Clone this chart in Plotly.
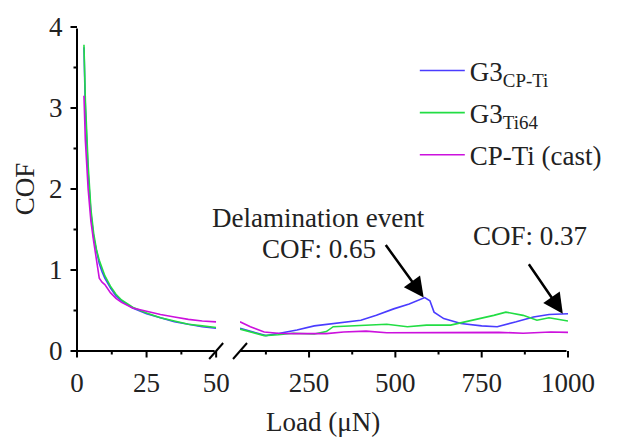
import plotly.graph_objects as go

# ---------------- data ----------------
series_names = ["G3<sub>CP-Ti</sub>", "G3<sub>Ti64</sub>", "CP-Ti (cast)"]
series_colors = ["#4a3cff", "#22dd44", "#cc11dd"]

# Low-load region (0-50 µN)
low_x = [2.5, 3, 4, 5, 6, 7, 8, 9, 10, 12, 14, 16, 18, 20, 25, 30, 35, 40, 45, 50]
blue_low = [3.75, 3.0, 2.2, 1.7, 1.4, 1.22, 1.08, 0.98, 0.9, 0.78, 0.68, 0.62, 0.57, 0.53, 0.46, 0.41, 0.36, 0.33, 0.30, 0.28]
green_low = [3.78, 3.1, 2.3, 1.75, 1.45, 1.25, 1.12, 1.02, 0.93, 0.80, 0.70, 0.63, 0.58, 0.54, 0.47, 0.41, 0.37, 0.33, 0.31, 0.29]
mag_low = [3.15, 2.6, 2.0, 1.6, 1.35, 1.1, 0.9, 0.85, 0.82, 0.72, 0.65, 0.60, 0.56, 0.53, 0.49, 0.45, 0.42, 0.39, 0.37, 0.36]

# High-load region (50-1000 µN)
blue_hx = [50, 90, 125, 165, 215, 265, 330, 400, 445, 495, 540, 570, 585, 600, 612, 640, 690, 750, 795, 850, 900, 945, 1000]
blue_hy = [0.28, 0.23, 0.19, 0.22, 0.26, 0.31, 0.34, 0.38, 0.44, 0.52, 0.58, 0.63, 0.66, 0.62, 0.48, 0.40, 0.34, 0.31, 0.30, 0.36, 0.42, 0.45, 0.46]
green_hx = [50, 90, 120, 160, 205, 265, 300, 320, 400, 475, 535, 590, 660, 725, 785, 820, 870, 910, 945, 1000]
green_hy = [0.27, 0.22, 0.19, 0.20, 0.22, 0.21, 0.24, 0.30, 0.32, 0.33, 0.30, 0.32, 0.32, 0.38, 0.44, 0.48, 0.44, 0.38, 0.41, 0.37]
mag_hx = [50, 80, 120, 160, 205, 260, 300, 350, 415, 475, 540, 600, 700, 800, 870, 950, 1000]
mag_hy = [0.36, 0.30, 0.235, 0.22, 0.215, 0.22, 0.215, 0.235, 0.245, 0.225, 0.225, 0.23, 0.23, 0.23, 0.22, 0.235, 0.23]

low_ticks = [0, 25, 50]
low_minor = [12.5, 37.5]
high_ticks = [250, 500, 750, 1000]
high_minor = [125, 375, 625, 875]
high_start = 50
y_ticks = [0, 1, 2, 3, 4]
y_minor = [0.5, 1.5, 2.5, 3.5]

# annotation points
delam_x, delam_y = 582, 0.66
end_x, end_y = 985, 0.46

FONT = "Liberation Serif"
FS = 27
TXT = "#222"
MAJ, MIN = 8, 5

fig = go.Figure()
lows = [blue_low, green_low, mag_low]
highs = [(blue_hx, blue_hy), (green_hx, green_hy), (mag_hx, mag_hy)]
for i, name in enumerate(series_names):
    fig.add_trace(go.Scatter(x=low_x, y=lows[i], xaxis="x", yaxis="y", mode="lines",
                             line=dict(color=series_colors[i], width=1.6),
                             name=name, legendgroup=f"g{i}", showlegend=True))
    fig.add_trace(go.Scatter(x=highs[i][0], y=highs[i][1], xaxis="x2", yaxis="y", mode="lines",
                             line=dict(color=series_colors[i], width=1.6),
                             name=name, legendgroup=f"g{i}", showlegend=False))


def ax_style(tick_list):
    # plotly ticks kept transparent for label spacing; visible axis lines/ticks drawn as arrow segments below
    return dict(showline=False, showgrid=False, zeroline=False,
                ticks="outside", ticklen=MAJ, tickwidth=2, tickcolor="rgba(0,0,0,0)",
                tickmode="array", tickvals=tick_list,
                tickfont=dict(family=FONT, size=FS, color=TXT))


X1_DOM = [0, 0.2834]
X2_DOM = [0.332, 1]

fig.update_layout(
    width=619, height=437,
    margin=dict(l=77, r=48, t=23, b=86),
    plot_bgcolor="white", paper_bgcolor="white",
    xaxis=dict(domain=X1_DOM, range=[low_ticks[0], low_ticks[-1]], anchor="y", **ax_style(low_ticks)),
    xaxis2=dict(domain=X2_DOM, range=[high_start, high_ticks[-1]], anchor="y", **ax_style(high_ticks)),
    yaxis=dict(range=[y_ticks[0], y_ticks[-1]],
               title=dict(text="COF", font=dict(family=FONT, size=FS, color=TXT), standoff=6),
               **ax_style(y_ticks)),
    legend=dict(x=0.688, y=0.94, xanchor="left", yanchor="top", bgcolor="rgba(0,0,0,0)",
                font=dict(family=FONT, size=FS, color=TXT), tracegroupgap=4, itemwidth=45),
    showlegend=True,
)


def seg(xr, x, y, ax, ay, axref="pixel", ayref="pixel"):
    fig.add_annotation(text="", xref=xr, yref="y", x=x, y=y, ax=ax, ay=ay, axref=axref, ayref=ayref,
                       showarrow=True, arrowhead=0, arrowwidth=2, arrowcolor="black", standoff=0)


# axis lines (head at one end, tail at the other, in axis units)
seg("x", low_ticks[0], y_ticks[0], low_ticks[0], y_ticks[-1], axref="x", ayref="y")
seg("x", low_ticks[0], y_ticks[0], low_ticks[-1], y_ticks[0], axref="x", ayref="y")
seg("x2", high_start, y_ticks[0], high_ticks[-1], y_ticks[0], axref="x2", ayref="y")
# tick marks
for vals, ln in [(y_ticks, MAJ), (y_minor, MIN)]:
    for v in vals:
        seg("x", low_ticks[0], v, -ln, 0)
for xr, vals, ln in [("x", low_ticks, MAJ), ("x", low_minor, MIN),
                     ("x2", high_ticks, MAJ), ("x2", high_minor, MIN)]:
    for v in vals:
        seg(xr, v, y_ticks[0], 0, ln)

# axis break marks (end of left axis, start of right axis)
for xa in [X1_DOM[1], X2_DOM[0]]:
    fig.add_shape(type="line", xref="paper", yref="paper", xsizemode="pixel", ysizemode="pixel",
                  xanchor=xa, yanchor=0, x0=-7, x1=7, y0=-8, y1=8, line=dict(color="black", width=2))

# axis title centred under whole plot
fig.add_annotation(text="Load (μN)", xref="paper", yref="paper", x=0.5, y=-0.22, yanchor="middle",
                   showarrow=False, font=dict(family=FONT, size=FS, color=TXT))

# text annotations
fig.add_annotation(text="Delamination event", xref="x2", yref="y", x=delam_x, y=delam_y, showarrow=False,
                   xshift=-105, yshift=80, font=dict(family=FONT, size=FS, color=TXT))
fig.add_annotation(text="COF: 0.65", xref="x2", yref="y", x=delam_x, y=delam_y, showarrow=False,
                   xshift=-105, yshift=49, font=dict(family=FONT, size=FS, color=TXT))
fig.add_annotation(text="COF: 0.37", xref="x2", yref="y", x=end_x, y=end_y, showarrow=False,
                   xshift=-33, yshift=78, font=dict(family=FONT, size=FS, color=TXT))
# arrows
fig.add_annotation(text="", xref="x2", yref="y", x=delam_x, y=delam_y, ax=-39, ay=-54,
                   showarrow=True, arrowhead=2, arrowsize=1.6, arrowwidth=2.5, arrowcolor="black")
fig.add_annotation(text="", xref="x2", yref="y", x=end_x, y=end_y, ax=-35, ay=-51,
                   showarrow=True, arrowhead=2, arrowsize=1.6, arrowwidth=2.5, arrowcolor="black")

fig.write_html("out.html")
